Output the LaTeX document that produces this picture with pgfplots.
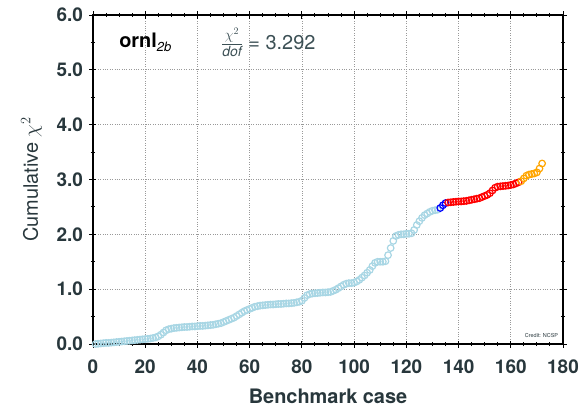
\documentclass[border=0pt]{standalone}
\usepackage{pgfplots}
\pgfplotsset{compat=1.18}
\usepackage{amsmath}
\usepackage{fontspec}
\setmainfont{TeX Gyre Heros}
\usetikzlibrary{calc}
\definecolor{txt}{RGB}{40,55,60}
\definecolor{txttwo}{RGB}{60,80,85}
\definecolor{lb}{RGB}{168,214,228}
\definecolor{myorange}{RGB}{255,165,0}
\begin{document}
\begin{tikzpicture}
\begin{axis}[
 width=470bp, height=329bp, scale only axis,
 xmin=0, xmax=180, ymin=0, ymax=6,
 xtick={0,20,...,180}, ytick={0,1,...,6},
 minor x tick num=3, minor y tick num=1,
 tick align=center,
 major tick length=7bp, minor tick length=4bp,
 grid=major, major grid style={dotted, gray!80, line width=0.7pt},
 axis line style={line width=1.3pt},
 every tick/.style={black, line width=1pt},
 tick label style={font=\fontsize{19}{19}\selectfont\bfseries, text=txt},
 xticklabel style={yshift=-9bp},
 yticklabel style={xshift=-3bp},
 /pgf/number format/assume math mode=true,
 yticklabel style={/pgf/number format/.cd, fixed, fixed zerofill, precision=1},
 xlabel={\bfseries Benchmark case},
 ylabel={Cumulative $\chi^2$},
 label style={font=\fontsize{20}{20}\selectfont, text=txt},
 xlabel style={yshift=-8bp},
 ylabel style={yshift=8bp},
 clip=false,
 every axis plot/.append style={only marks, mark=o, mark size=3.3bp, line width=1.2pt},
]
\addplot[lb] table {
x y
1 0.00
2 0.005
3 0.01
4 0.015
5 0.02
6 0.02
7 0.025
8 0.03
9 0.035
10 0.04
11 0.045
12 0.05
13 0.055
14 0.06
15 0.065
16 0.07
17 0.075
18 0.08
19 0.085
20 0.09
21 0.095
22 0.10
23 0.11
24 0.12
25 0.14
26 0.17
27 0.21
28 0.25
29 0.27
30 0.28
31 0.29
32 0.295
33 0.30
34 0.305
35 0.31
36 0.31
37 0.315
38 0.32
39 0.32
40 0.325
41 0.33
42 0.33
43 0.335
44 0.34
45 0.345
46 0.35
47 0.36
48 0.37
49 0.38
50 0.40
51 0.42
52 0.44
53 0.46
54 0.48
55 0.51
56 0.54
57 0.57
58 0.60
59 0.62
60 0.64
61 0.66
62 0.68
63 0.69
64 0.70
65 0.705
66 0.71
67 0.715
68 0.72
69 0.72
70 0.725
71 0.73
72 0.73
73 0.735
74 0.74
75 0.74
76 0.745
77 0.75
78 0.76
79 0.77
80 0.79
81 0.84
82 0.89
83 0.91
84 0.92
85 0.925
86 0.93
87 0.935
88 0.94
89 0.94
90 0.945
91 0.95
92 0.97
93 0.99
94 1.02
95 1.05
96 1.08
97 1.10
98 1.11
99 1.11
100 1.12
101 1.14
102 1.17
103 1.21
104 1.25
105 1.30
106 1.35
107 1.42
108 1.48
109 1.50
110 1.50
111 1.50
112 1.51
113 1.62
114 1.75
115 1.88
116 1.97
117 1.99
118 2.00
119 2.00
120 2.01
121 2.01
122 2.02
123 2.08
124 2.17
125 2.24
126 2.30
127 2.35
128 2.38
129 2.41
130 2.43
131 2.44
132 2.45
};
\addplot[blue] table {
x y
133 2.48
134 2.53
135 2.57
};
\addplot[red] table {
x y
136 2.58
137 2.585
138 2.59
139 2.595
140 2.60
141 2.60
142 2.605
143 2.61
144 2.62
145 2.63
146 2.64
147 2.65
148 2.66
149 2.68
150 2.70
151 2.72
152 2.75
153 2.80
154 2.85
155 2.87
156 2.875
157 2.88
158 2.885
159 2.89
160 2.90
161 2.91
162 2.93
163 2.95
};
\addplot[myorange] table {
x y
164 2.97
165 3.02
166 3.07
167 3.09
168 3.10
169 3.11
170 3.13
171 3.20
172 3.292
};
\node[anchor=west, text=black, inner sep=0pt] at (axis cs:10,5.5)
  {\fontsize{20}{20}\selectfont\bfseries ornl\raisebox{-0.35ex}{\fontsize{13}{13}\selectfont\mdseries\itshape 2b}};
\node[anchor=west, text=txttwo, inner sep=0pt] at (axis cs:49,5.5)
  {\fontsize{20}{20}\selectfont$\frac{\chi^{2}}{\textit{dof}}$ = 3.292};
\node[anchor=south east, text=txt, inner sep=0pt] at (rel axis cs:0.99,0.02)
  {\fontsize{5.5}{5.5}\selectfont Credit: NCSP};
\end{axis}
\pgfresetboundingbox
\path ($(current axis.south west)+(-93bp,-63bp)$) rectangle ($(current axis.north east)+(18bp,15bp)$);
\end{tikzpicture}
\end{document}
